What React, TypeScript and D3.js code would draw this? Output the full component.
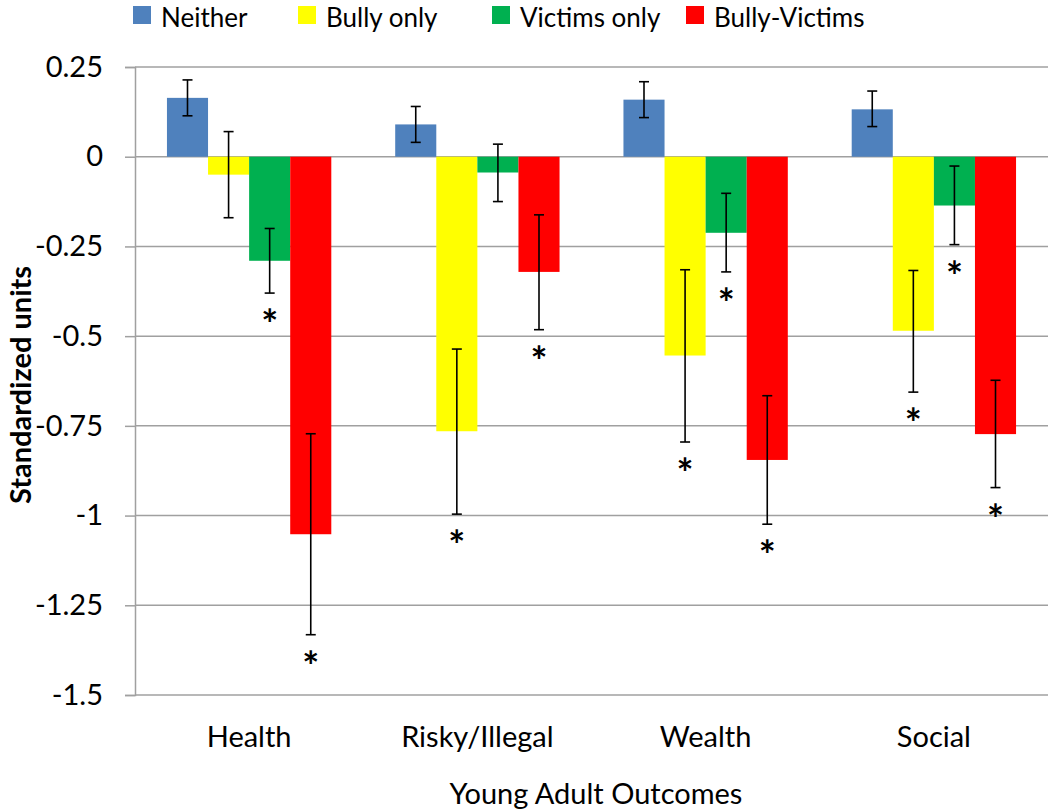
import React, { useEffect, useRef } from 'react';
import * as d3 from 'd3';

const categories = ['Health', 'Risky/Illegal', 'Wealth', 'Social'];
const groups = ['Neither', 'Bully only', 'Victims only', 'Bully-Victims'];
const colors = ['#4F81BD', '#FFFF00', '#00B050', '#FF0000'];

// mean per group, one value per category
const neither = [0.164, 0.09, 0.159, 0.132];
const bullyOnly = [-0.05, -0.765, -0.554, -0.485];
const victimsOnly = [-0.29, -0.044, -0.212, -0.136];
const bullyVictims = [-1.052, -0.321, -0.845, -0.773];

// error bar ends [upper, lower]
const neitherErr = [[0.214, 0.114], [0.14, 0.04], [0.209, 0.109], [0.183, 0.084]];
const bullyOnlyErr = [[0.07, -0.17], [-0.536, -0.996], [-0.315, -0.795], [-0.317, -0.656]];
const victimsOnlyErr = [[-0.2, -0.38], [0.035, -0.125], [-0.102, -0.321], [-0.026, -0.245]];
const bullyVictimsErr = [[-0.772, -1.332], [-0.162, -0.482], [-0.666, -1.024], [-0.623, -0.922]];

// significance stars
const neitherSig = [false, false, false, false];
const bullyOnlySig = [false, true, true, true];
const victimsOnlySig = [true, false, true, true];
const bullyVictimsSig = [true, true, true, true];

const yTicks = [0.25, 0, -0.25, -0.5, -0.75, -1, -1.25, -1.5];

const FONT = 'Lato, "Open Sans", sans-serif';

export default function App() {
  const ref = useRef<SVGSVGElement>(null);

  useEffect(() => {
    const svg = d3.select(ref.current);
    svg.selectAll('*').remove();

    const margin = { top: 67, right: 2, bottom: 117, left: 135 };
    const width = 1050 - margin.left - margin.right;
    const height = 812 - margin.top - margin.bottom;

    const g = svg.append('g').attr('transform', `translate(${margin.left},${margin.top})`);

    const x0 = d3.scaleBand().domain(categories).range([0, width]).paddingInner(0.28).paddingOuter(0.14);
    const x1 = d3.scaleBand().domain(groups).range([0, x0.bandwidth()]);
    const y = d3.scaleLinear().domain([-1.5, 0.25]).range([height, 0]);

    // y axis with ticks
    const yAxis = g.append('g').call(
      d3.axisLeft(y).tickValues(yTicks).tickSize(10).tickFormat((d) => String(d))
    );
    yAxis.select('.domain').attr('stroke', '#A0A0A0').attr('stroke-width', 1.5);
    yAxis.selectAll('.tick line').attr('stroke', '#A0A0A0').attr('stroke-width', 1.5);
    yAxis.selectAll('.tick text')
      .attr('x', -32)
      .attr('font-family', FONT)
      .attr('font-size', 29)
      .attr('fill', '#000');

    // gridlines
    g.append('g')
      .selectAll('line')
      .data(yTicks)
      .join('line')
      .attr('x1', 0)
      .attr('x2', width)
      .attr('y1', (d) => y(d))
      .attr('y2', (d) => y(d))
      .attr('stroke', '#A0A0A0')
      .attr('stroke-width', 1.5);

    const series = [
      { vals: neither, err: neitherErr, sig: neitherSig },
      { vals: bullyOnly, err: bullyOnlyErr, sig: bullyOnlySig },
      { vals: victimsOnly, err: victimsOnlyErr, sig: victimsOnlySig },
      { vals: bullyVictims, err: bullyVictimsErr, sig: bullyVictimsSig },
    ];

    series.forEach((s, si) => {
      const name = groups[si];
      const rows = categories.map((c, ci) => ({
        c, v: s.vals[ci], hi: s.err[ci][0], lo: s.err[ci][1], sig: s.sig[ci],
      }));
      const xs = (d: any) => (x0(d.c) as number) + (x1(name) as number);
      const cx = (d: any) => xs(d) + x1.bandwidth() / 2;

      g.append('g')
        .selectAll('rect')
        .data(rows)
        .join('rect')
        .attr('x', xs)
        .attr('width', x1.bandwidth())
        .attr('y', (d) => y(Math.max(0, d.v)))
        .attr('height', (d) => Math.abs(y(d.v) - y(0)))
        .attr('fill', colors[si]);

      const eb = g.append('g').attr('stroke', '#000').attr('stroke-width', 1.6);
      eb.selectAll('line.v')
        .data(rows)
        .join('line')
        .attr('class', 'v')
        .attr('x1', cx).attr('x2', cx)
        .attr('y1', (d) => y(d.hi)).attr('y2', (d) => y(d.lo));
      eb.selectAll('line.hi')
        .data(rows)
        .join('line')
        .attr('class', 'hi')
        .attr('x1', (d) => cx(d) - 5).attr('x2', (d) => cx(d) + 5)
        .attr('y1', (d) => y(d.hi)).attr('y2', (d) => y(d.hi));
      eb.selectAll('line.lo')
        .data(rows)
        .join('line')
        .attr('class', 'lo')
        .attr('x1', (d) => cx(d) - 5).attr('x2', (d) => cx(d) + 5)
        .attr('y1', (d) => y(d.lo)).attr('y2', (d) => y(d.lo));

      g.append('g')
        .selectAll('text')
        .data(rows.filter((d) => d.sig))
        .join('text')
        .attr('x', cx)
        .attr('y', (d) => y(d.lo) + 46)
        .attr('text-anchor', 'middle')
        .attr('font-family', FONT)
        .attr('font-weight', 'bold')
        .attr('font-size', 40)
        .text('*');
    });

    // category labels
    g.append('g')
      .selectAll('text')
      .data(categories)
      .join('text')
      .attr('x', (d) => (x0(d) as number) + x0.bandwidth() / 2)
      .attr('y', height + 52)
      .attr('text-anchor', 'middle')
      .attr('font-family', FONT)
      .attr('font-size', 29)
      .text((d) => d);

    // axis titles
    svg.append('text')
      .attr('x', 596)
      .attr('y', 804)
      .attr('text-anchor', 'middle')
      .attr('font-family', FONT)
      .attr('font-size', 29)
      .text('Young Adult Outcomes');

    svg.append('text')
      .attr('transform', `translate(31,385) rotate(-90)`)
      .attr('text-anchor', 'middle')
      .attr('font-family', FONT)
      .attr('font-weight', 'bold')
      .attr('font-size', 29)
      .text('Standardized units');

    // legend
    const legendX = [133, 298, 492, 686];
    const lg = svg.append('g')
      .selectAll('g')
      .data(groups)
      .join('g')
      .attr('transform', (d, i) => `translate(${legendX[i]},6)`);
    lg.append('rect').attr('width', 18).attr('height', 18).attr('fill', (d, i) => colors[i]);
    lg.append('text')
      .attr('x', 28)
      .attr('y', 21)
      .attr('font-family', FONT)
      .attr('font-size', 26)
      .text((d) => d);
  }, []);

  return (
    <svg
      ref={ref}
      width={1050}
      height={812}
      style={{ position: 'absolute', left: 0, top: 0, background: '#fff' }}
    />
  );
}
